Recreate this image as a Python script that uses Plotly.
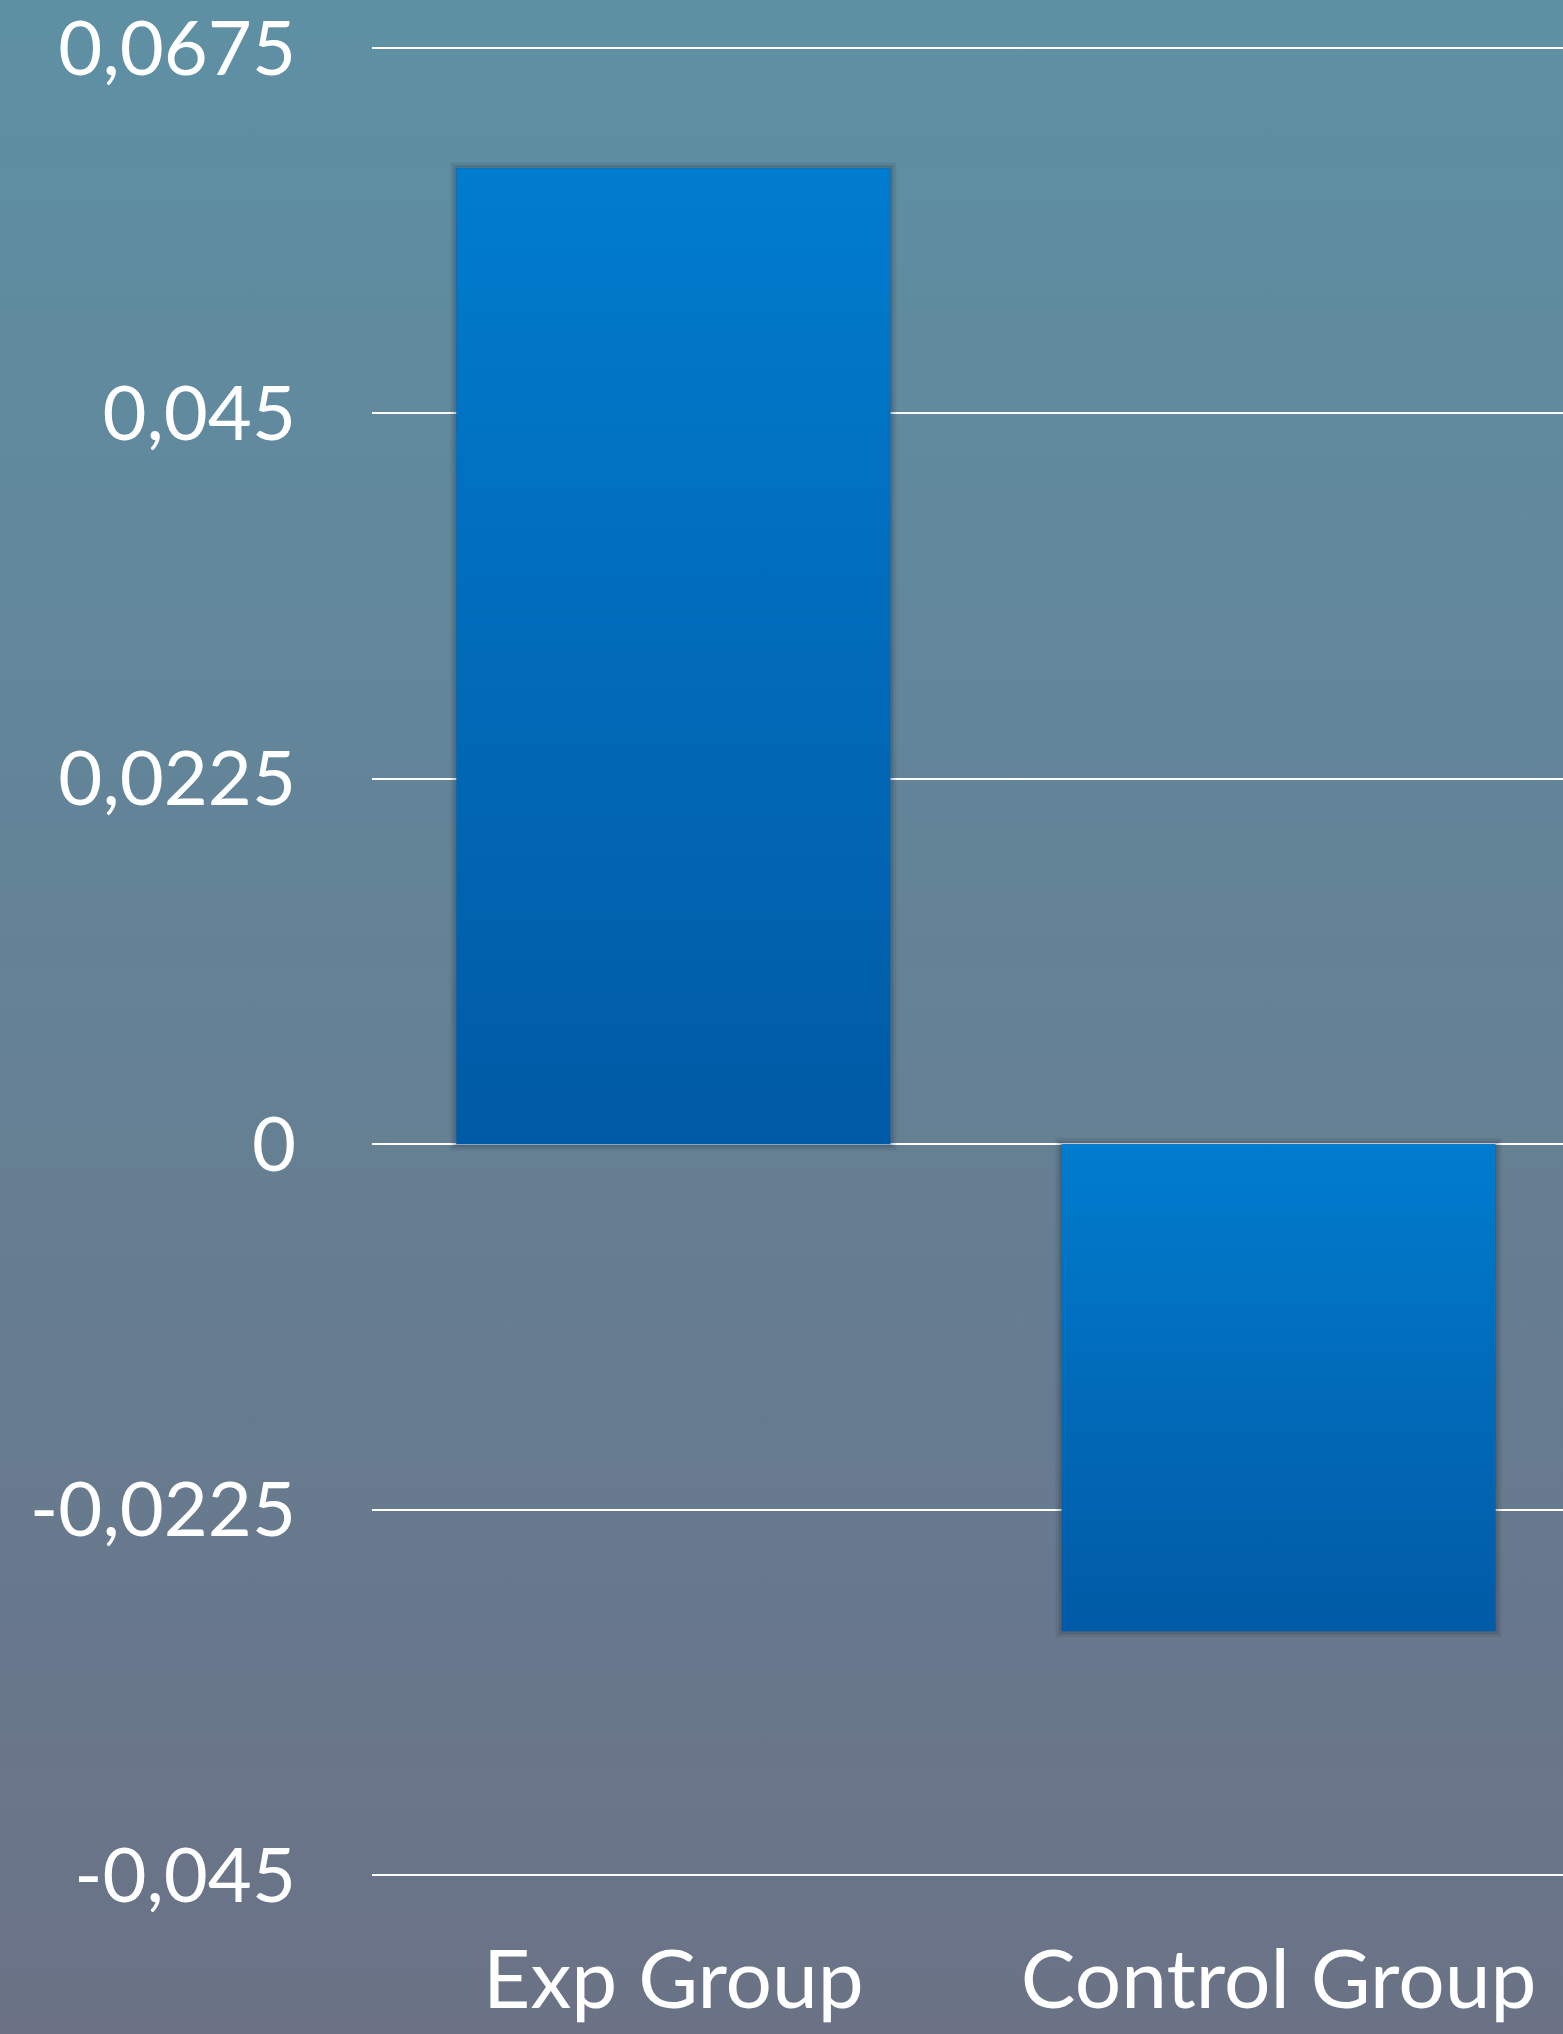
import base64
import plotly.graph_objects as go

# Mean change per group
categories = ["Exp Group", "Control Group"]
values = [0.0601, -0.0300]

# Y axis ticks (comma decimal separator)
y_tickvals = [-0.045, -0.0225, 0, 0.0225, 0.045, 0.0675]
y_ticktext = ["-0,045", "-0,0225", "0", "0,0225", "0,045", "0,0675"]

x_pos = list(range(len(categories)))
BAR_W = 0.717
FONT = "Lato, 'Open Sans', sans-serif"


def svg_gradient(top, bottom):
    svg = (
        '<svg xmlns="http://www.w3.org/2000/svg" width="10" height="100" '
        'preserveAspectRatio="none"><defs><linearGradient id="g" x1="0" y1="0" '
        'x2="0" y2="1"><stop offset="0" stop-color="%s"/><stop offset="1" '
        'stop-color="%s"/></linearGradient></defs>'
        '<rect width="10" height="100" fill="url(#g)"/></svg>' % (top, bottom)
    )
    return "data:image/svg+xml;base64," + base64.b64encode(svg.encode()).decode()


W, H = 1563, 2034
ML, MR, MT, MB = 372, 0, 44, 155
pw, ph = W - ML - MR, H - MT - MB

fig = go.Figure()

# soft drop shadow behind the bars
for lw, alpha in [(12, 0.10), (6, 0.16)]:
    fig.add_trace(go.Bar(
        x=x_pos, y=values, width=BAR_W,
        marker=dict(color="rgba(25,35,50,%s)" % alpha,
                    line=dict(color="rgba(25,35,50,%s)" % alpha, width=lw)),
        hoverinfo="skip", showlegend=False,
    ))

fig.add_trace(go.Bar(
    x=x_pos, y=values, width=BAR_W,
    marker=dict(color="#0068B8", line=dict(width=0)),
    showlegend=False,
))

images = [dict(
    source=svg_gradient("#5E90A4", "#6B7286"),
    xref="paper", yref="paper",
    x=-ML / pw, y=1 + MT / ph, sizex=W / pw, sizey=H / ph,
    xanchor="left", yanchor="top", sizing="stretch", layer="below",
)]
# blue vertical gradient on each bar, placed from the bar's own value
bar_grad = svg_gradient("#017CCE", "#015AA5")
for xp, v in zip(x_pos, values):
    images.append(dict(
        source=bar_grad, xref="x", yref="y",
        x=xp - BAR_W / 2, y=max(v, 0), sizex=BAR_W, sizey=abs(v),
        xanchor="left", yanchor="top", sizing="stretch", layer="above",
    ))

fig.update_layout(
    width=W, height=H,
    margin=dict(l=ML, r=MR, t=MT, b=MB, pad=0),
    paper_bgcolor="rgba(0,0,0,0)",
    plot_bgcolor="rgba(0,0,0,0)",
    barmode="overlay",
    images=images,
    font=dict(family=FONT, color="white"),
    xaxis=dict(
        range=[-0.498, 1.470],
        tickvals=x_pos, ticktext=categories,
        showgrid=False, zeroline=False, showline=False,
        tickfont=dict(size=82, color="white"),
        ticklabelstandoff=46,
        ticklabeloverflow="allow",
    ),
    yaxis=dict(
        range=[-0.04525, 0.06775],
        tickvals=y_tickvals, ticktext=y_ticktext,
        showgrid=True, gridcolor="white", gridwidth=2,
        zeroline=True, zerolinecolor="white", zerolinewidth=2,
        showline=False,
        tickfont=dict(size=76, color="white"),
        ticklabelstandoff=75,
        ticklabeloverflow="allow",
    ),
)

fig.write_html("out.html")
